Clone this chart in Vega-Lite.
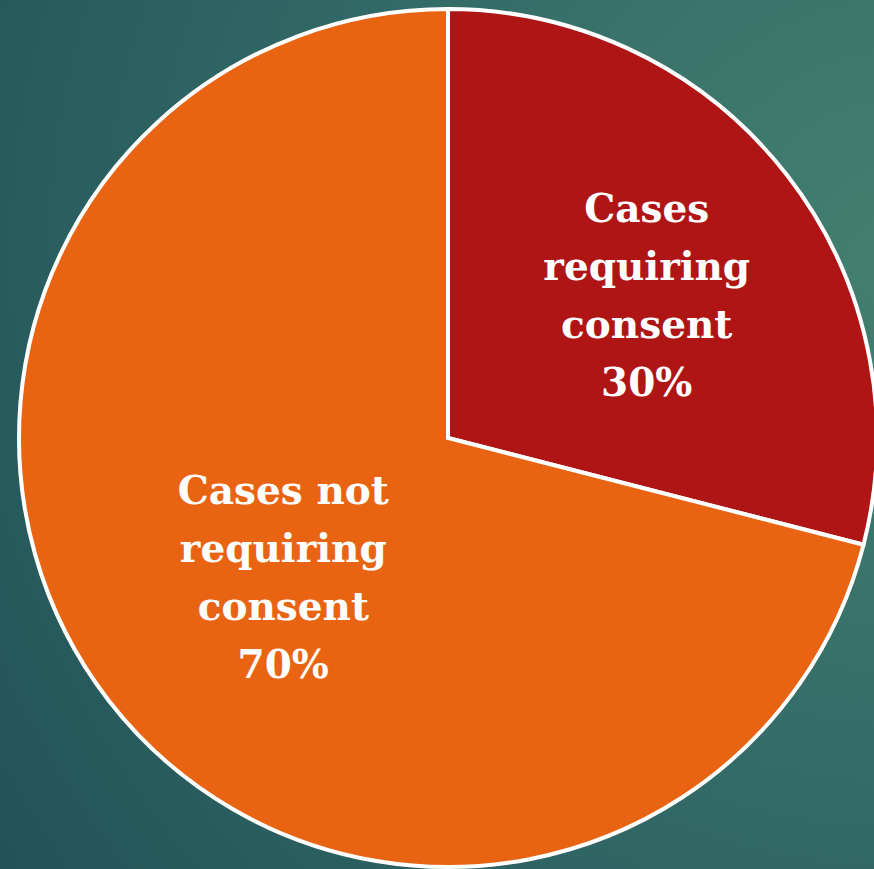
{
  "$schema": "https://vega.github.io/schema/vega-lite/v6.json",
  "width": 896,
  "height": 876,
  "autosize": {"type": "none"},
  "padding": 0,
  "background": "#2a5f60",
  "view": {
    "stroke": null,
    "fill": {
      "gradient": "radial",
      "x1": 1, "y1": 0.3, "r1": 0,
      "x2": 1, "y2": 0.3, "r2": 1.2,
      "stops": [
        {"offset": 0, "color": "#43806f"},
        {"offset": 0.5, "color": "#336b67"},
        {"offset": 1, "color": "#225359"}
      ]
    }
  },
  "data": {
    "values": [
      {"category": "Cases requiring consent", "value": 29, "label": "Cases\nrequiring\nconsent\n30%"},
      {"category": "Cases not requiring consent", "value": 71, "label": "Cases not\nrequiring\nconsent\n70%"}
    ]
  },
  "encoding": {
    "theta": {"field": "value", "type": "quantitative", "stack": true},
    "order": {"field": "value", "type": "quantitative", "sort": "ascending"}
  },
  "layer": [
    {
      "mark": {"type": "arc", "outerRadius": 429, "stroke": "white", "strokeWidth": 4},
      "encoding": {
        "color": {
          "field": "category",
          "type": "nominal",
          "scale": {"domain": ["Cases requiring consent", "Cases not requiring consent"], "range": ["#b01516", "#e96412"]},
          "legend": null
        }
      }
    },
    {
      "mark": {
        "type": "text",
        "radius": 230,
        "dx": 17,
        "dy": -87,
        "lineBreak": "\n",
        "lineHeight": 58,
        "font": "DejaVu Serif",
        "fontWeight": "bold",
        "fontSize": 39,
        "color": "white",
        "align": "center",
        "baseline": "middle"
      },
      "encoding": {
        "text": {"field": "label"}
      }
    }
  ]
}
